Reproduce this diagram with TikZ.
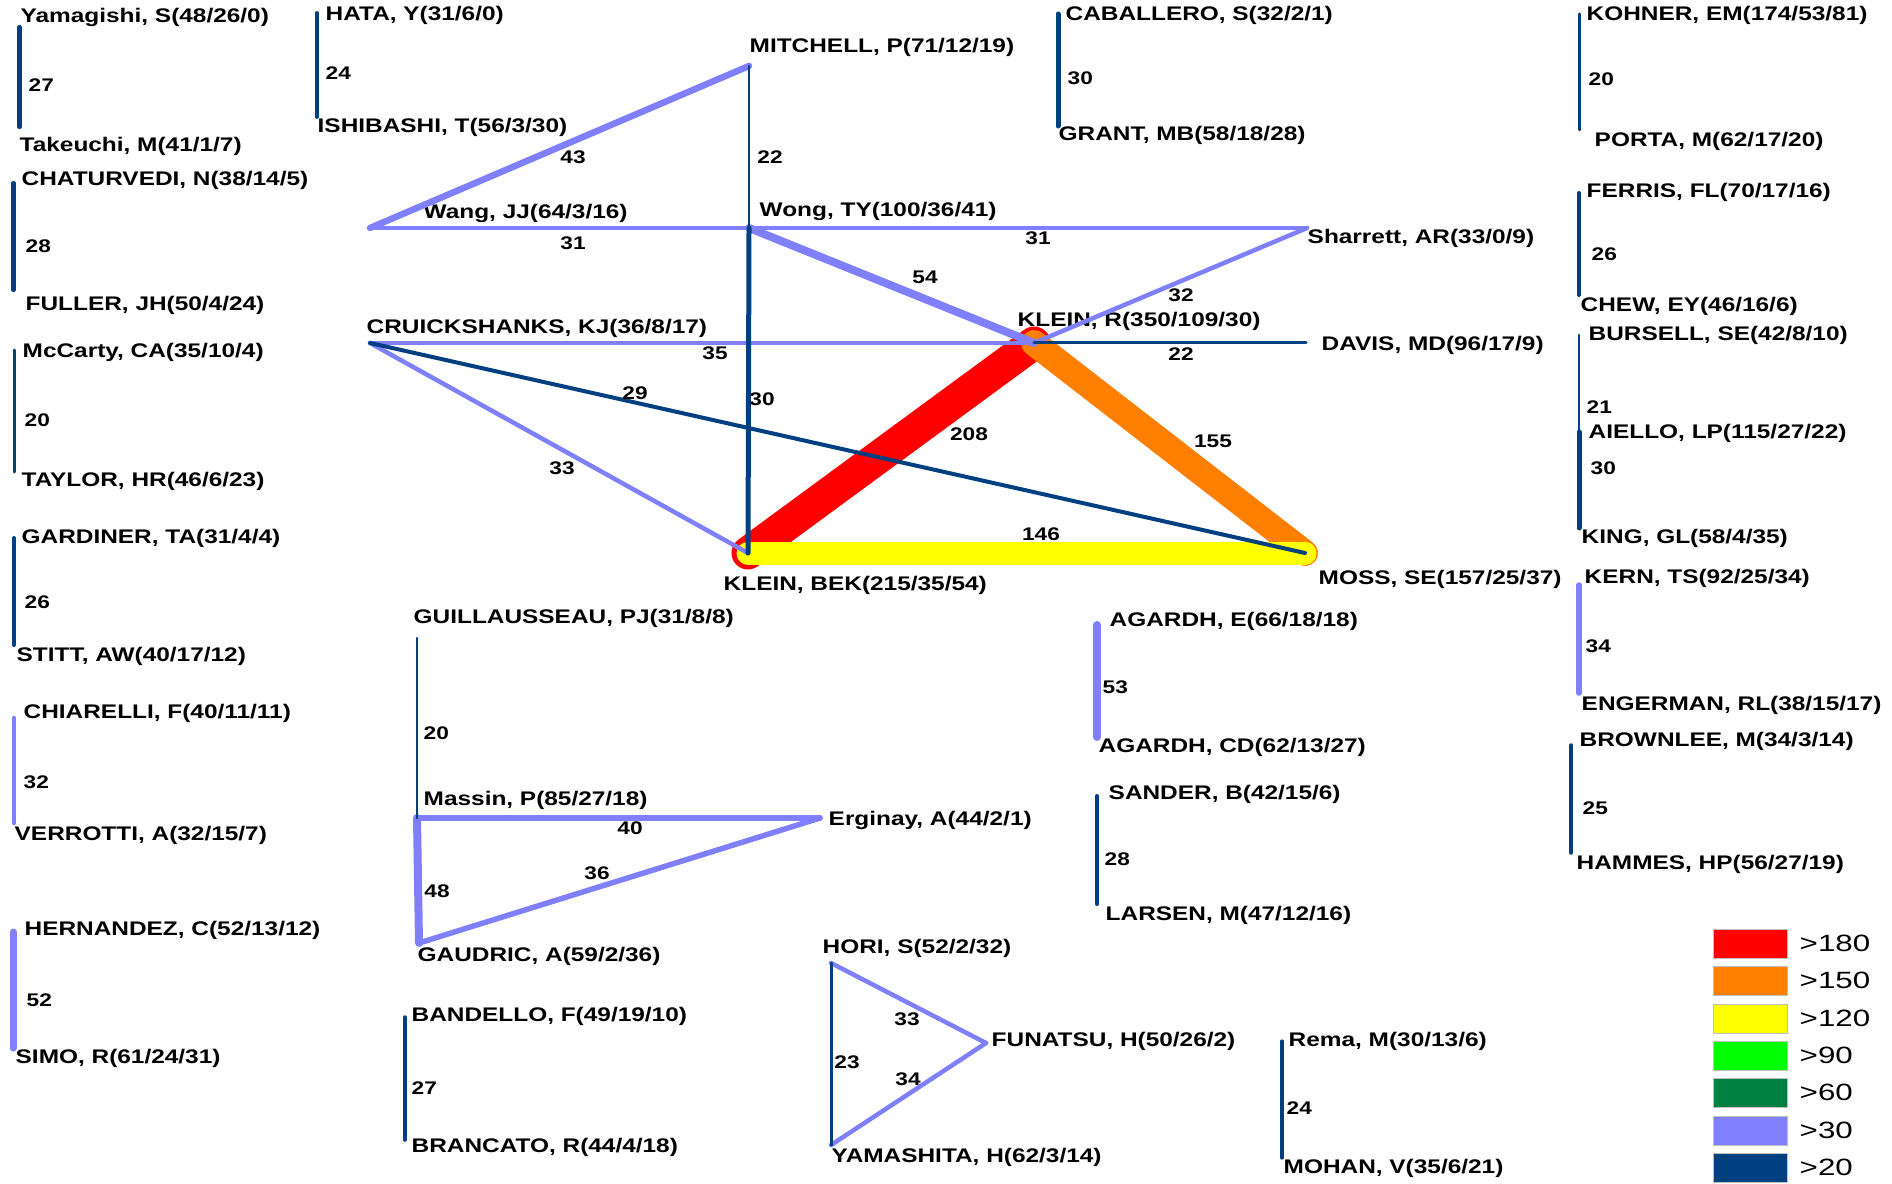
\documentclass[tikz,border=0pt]{standalone}
\usepackage{fontspec}
\setmainfont{Liberation Sans}[FakeStretch=1.24]
\newfontfamily\legendfont{Liberation Sans}[FakeStretch=1.33]

\definecolor{tieRed}{RGB}{255,0,0}
\definecolor{tieOrange}{RGB}{255,128,0}
\definecolor{tieYellow}{RGB}{255,255,0}
\definecolor{tieGreen}{RGB}{0,255,0}
\definecolor{tieDkGreen}{RGB}{0,128,64}
\definecolor{tieLight}{RGB}{128,128,255}
\definecolor{tieDark}{RGB}{0,64,128}

\begin{document}
\begin{tikzpicture}[
		author/.style={anchor=west, inner sep=0pt, font=\fontsize{5.6}{6}\selectfont\bfseries},
		wt/.style={inner sep=0pt, font=\fontsize{5.2}{6}\selectfont\bfseries},
		wtw/.style={wt, anchor=west},
		dkline/.style={draw=tieDark, line width=#1, line cap=round},
		ltline/.style={draw=tieLight, line width=#1, line cap=round},
		legbox/.style={draw=black!25, line width=0.3pt, anchor=north west, minimum width=0.74cm, minimum height=0.29cm, inner sep=0pt},
		legtxt/.style={anchor=west, inner sep=0pt, font=\legendfont\fontsize{6.7}{7}\selectfont}
	]
				\useasboundingbox (0, 0) rectangle (18.92, 11.83);

				\coordinate (mitchell) at (7.49, 11.17);
				\coordinate (wang) at (3.70, 9.55);
				\coordinate (wong) at (7.49, 9.55);
				\coordinate (sharrett) at (13.07, 9.55);
				\coordinate (cruick) at (3.70, 8.40);
				\coordinate (kleinR) at (10.34, 8.40);
				\coordinate (davis) at (13.06, 8.40);
				\coordinate (kleinBEK) at (7.48, 6.30);
				\coordinate (moss) at (13.05, 6.30);

				\node [author] (mitchellT) at (7.49, 11.36) {MITCHELL, P(71/12/19)};
				\node [author] (wangT) at (4.23, 9.70) {Wang, JJ(64/3/16)};
				\node [author] (wongT) at (7.59, 9.72) {Wong, TY(100/36/41)};
				\node [author] (sharrettT) at (13.07, 9.45) {Sharrett, AR(33/0/9)};
				\node [author] (cruickT) at (3.66, 8.55) {CRUICKSHANKS, KJ(36/8/17)};
				\node [author] (kleinRT) at (10.17, 8.62) {KLEIN, R(350/109/30)};
				\node [author] (davisT) at (13.21, 8.38) {DAVIS, MD(96/17/9)};
				\node [author] (kleinBEKT) at (7.23, 5.98) {KLEIN, BEK(215/35/54)};
				\node [author] (mossT) at (13.18, 6.04) {MOSS, SE(157/25/37)};

				\draw [tieRed, line width=0.33cm, line cap=round] (kleinR) -- (kleinBEK);
				\draw [tieOrange, line width=0.26cm, line cap=round] (kleinR) -- (moss);
				\draw [tieYellow, line width=0.23cm, line cap=round] (kleinBEK) -- (moss);

				\draw [ltline=0.065cm] (wang) -- (mitchell);
				\draw [ltline=0.045cm] (wang) -- (wong);
				\draw [ltline=0.045cm] (wong) -- (sharrett);
				\draw [ltline=0.08cm] (wong) -- (kleinR);
				\draw [ltline=0.045cm] (sharrett) -- (kleinR);
				\draw [ltline=0.045cm] (cruick) -- (kleinR);
				\draw [ltline=0.045cm] (cruick) -- (kleinBEK);
				\draw [dkline=0.04cm] (cruick) -- (moss);
				\draw [dkline=0.025cm] (mitchell) -- (wong);
				\draw [dkline=0.05cm] (wong) -- (kleinBEK);
				\draw [dkline=0.03cm] (kleinR) -- (davis);

				\node [wt] (w43) at (5.73, 10.26) {43};
				\node [wt] (w31a) at (5.73, 9.40) {31};
				\node [wt] (w22a) at (7.70, 10.26) {22};
				\node [wt] (w30a) at (7.62, 7.84) {30};
				\node [wt] (w31b) at (10.38, 9.45) {31};
				\node [wt] (w54) at (9.25, 9.06) {54};
				\node [wt] (w32a) at (11.81, 8.88) {32};
				\node [wt] (w35) at (7.15, 8.30) {35};
				\node [wt] (w29) at (6.35, 7.90) {29};
				\node [wt] (w33a) at (5.62, 7.15) {33};
				\node [wt] (w22b) at (11.81, 8.29) {22};
				\node [wt] (w208) at (9.69, 7.49) {208};
				\node [wt] (w155) at (12.13, 7.42) {155};
				\node [wt] (w146) at (10.41, 6.49) {146};

				\coordinate (yamagishi) at (0.196, 11.56);
				\coordinate (takeuchi) at (0.196, 10.56);
				\node [author] (yamagishiT) at (0.20, 11.66) {Yamagishi, S(48/26/0)};
				\node [author] (takeuchiT) at (0.19, 10.37) {Takeuchi, M(41/1/7)};
				\draw [dkline=0.042cm] (yamagishi) -- (takeuchi);
				\node [wtw] (w27a) at (0.28, 10.98) {27};

				\coordinate (hata) at (3.17, 11.70);
				\coordinate (ishibashi) at (3.17, 10.66);
				\node [author] (hataT) at (3.25, 11.68) {HATA, Y(31/6/0)};
				\node [author] (ishibashiT) at (3.17, 10.56) {ISHIBASHI, T(56/3/30)};
				\draw [dkline=0.038cm] (hata) -- (ishibashi);
				\node [wtw] (w24a) at (3.25, 11.10) {24};

				\coordinate (chaturvedi) at (0.134, 10.00);
				\coordinate (fuller) at (0.134, 8.93);
				\node [author] (chaturvediT) at (0.21, 10.03) {CHATURVEDI, N(38/14/5)};
				\node [author] (fullerT) at (0.25, 8.78) {FULLER, JH(50/4/24)};
				\draw [dkline=0.042cm] (chaturvedi) -- (fuller);
				\node [wtw] (w28a) at (0.25, 9.37) {28};

				\coordinate (mccarty) at (0.14, 8.33);
				\coordinate (taylor) at (0.14, 7.11);
				\node [author] (mccartyT) at (0.22, 8.31) {McCarty, CA(35/10/4)};
				\node [author] (taylorT) at (0.21, 7.02) {TAYLOR, HR(46/6/23)};
				\draw [dkline=0.03cm] (mccarty) -- (taylor);
				\node [wtw] (w20a) at (0.24, 7.63) {20};

				\coordinate (gardiner) at (0.14, 6.45);
				\coordinate (stitt) at (0.14, 5.38);
				\node [author] (gardinerT) at (0.21, 6.45) {GARDINER, TA(31/4/4)};
				\node [author] (stittT) at (0.16, 5.27) {STITT, AW(40/17/12)};
				\draw [dkline=0.04cm] (gardiner) -- (stitt);
				\node [wtw] (w26a) at (0.24, 5.81) {26};

				\coordinate (chiarelli) at (0.14, 4.65);
				\coordinate (verrotti) at (0.14, 3.60);
				\node [author] (chiarelliT) at (0.23, 4.70) {CHIARELLI, F(40/11/11)};
				\node [author] (verrottiT) at (0.14, 3.48) {VERROTTI, A(32/15/7)};
				\draw [ltline=0.045cm] (chiarelli) -- (verrotti);
				\node [wtw] (w32b) at (0.23, 4.01) {32};

				\coordinate (hernandez) at (0.13, 2.51);
				\coordinate (simo) at (0.13, 1.35);
				\node [author] (hernandezT) at (0.24, 2.53) {HERNANDEZ, C(52/13/12)};
				\node [author] (simoT) at (0.15, 1.25) {SIMO, R(61/24/31)};
				\draw [ltline=0.07cm] (hernandez) -- (simo);
				\node [wtw] (w52) at (0.26, 1.83) {52};

				\coordinate (caballero) at (10.58, 11.69);
				\coordinate (grant) at (10.58, 10.57);
				\node [author] (caballeroT) at (10.65, 11.68) {CABALLERO, S(32/2/1)};
				\node [author] (grantT) at (10.58, 10.48) {GRANT, MB(58/18/28)};
				\draw [dkline=0.05cm] (caballero) -- (grant);
				\node [wtw] (w30b) at (10.67, 11.05) {30};

				\coordinate (kohner) at (15.79, 11.69);
				\coordinate (porta) at (15.79, 10.53);
				\node [author] (kohnerT) at (15.86, 11.68) {KOHNER, EM(174/53/81)};
				\node [author] (portaT) at (15.94, 10.42) {PORTA, M(62/17/20)};
				\draw [dkline=0.03cm] (kohner) -- (porta);
				\node [wtw] (w20b) at (15.88, 11.04) {20};

				\coordinate (ferris) at (15.79, 9.90);
				\coordinate (chew) at (15.79, 8.88);
				\node [author] (ferrisT) at (15.86, 9.91) {FERRIS, FL(70/17/16)};
				\node [author] (chewT) at (15.80, 8.77) {CHEW, EY(46/16/6)};
				\draw [dkline=0.04cm] (ferris) -- (chew);
				\node [wtw] (w26b) at (15.91, 9.29) {26};

				\coordinate (bursell) at (15.79, 8.48);
				\coordinate (aiello) at (15.79, 7.51);
				\coordinate (king) at (15.79, 6.55);
				\node [author] (bursellT) at (15.88, 8.48) {BURSELL, SE(42/8/10)};
				\node [author] (aielloT) at (15.88, 7.50) {AIELLO, LP(115/27/22)};
				\node [author] (kingT) at (15.81, 6.45) {KING, GL(58/4/35)};
				\draw [dkline=0.028cm] (bursell) -- (aiello);
				\draw [dkline=0.05cm] (aiello) -- (king);
				\node [wtw] (w21) at (15.86, 7.76) {21};
				\node [wtw] (w30c) at (15.90, 7.15) {30};

				\coordinate (kern) at (15.79, 5.98);
				\coordinate (engerman) at (15.79, 4.90);
				\node [author] (kernT) at (15.84, 6.05) {KERN, TS(92/25/34)};
				\node [author] (engermanT) at (15.81, 4.78) {ENGERMAN, RL(38/15/17)};
				\draw [ltline=0.055cm] (kern) -- (engerman);
				\node [wtw] (w34a) at (15.85, 5.37) {34};

				\coordinate (agardhE) at (10.97, 5.58);
				\coordinate (agardhCD) at (10.97, 4.46);
				\node [author] (agardhET) at (11.09, 5.62) {AGARDH, E(66/18/18)};
				\node [author] (agardhCDT) at (10.98, 4.36) {AGARDH, CD(62/13/27)};
				\draw [ltline=0.08cm] (agardhE) -- (agardhCD);
				\node [wtw] (w53) at (11.02, 4.96) {53};

				\coordinate (sander) at (10.97, 3.87);
				\coordinate (larsen) at (10.97, 2.79);
				\node [author] (sanderT) at (11.08, 3.89) {SANDER, B(42/15/6)};
				\node [author] (larsenT) at (11.05, 2.68) {LARSEN, M(47/12/16)};
				\draw [dkline=0.04cm] (sander) -- (larsen);
				\node [wtw] (w28b) at (11.04, 3.24) {28};

				\coordinate (brownlee) at (15.71, 4.38);
				\coordinate (hammes) at (15.71, 3.30);
				\node [author] (brownleeT) at (15.79, 4.42) {BROWNLEE, M(34/3/14)};
				\node [author] (hammesT) at (15.76, 3.19) {HAMMES, HP(56/27/19)};
				\draw [dkline=0.035cm] (brownlee) -- (hammes);
				\node [wtw] (w25) at (15.82, 3.75) {25};

				\coordinate (rema) at (12.82, 1.42);
				\coordinate (mohan) at (12.82, 0.25);
				\node [author] (remaT) at (12.88, 1.42) {Rema, M(30/13/6)};
				\node [author] (mohanT) at (12.83, 0.15) {MOHAN, V(35/6/21)};
				\draw [dkline=0.032cm] (rema) -- (mohan);
				\node [wtw] (w24b) at (12.86, 0.75) {24};

				\coordinate (bandello) at (4.05, 1.66);
				\coordinate (brancato) at (4.05, 0.43);
				\node [author] (bandelloT) at (4.11, 1.67) {BANDELLO, F(49/19/10)};
				\node [author] (brancatoT) at (4.11, 0.36) {BRANCATO, R(44/4/18)};
				\draw [dkline=0.035cm] (bandello) -- (brancato);
				\node [wtw] (w27b) at (4.11, 0.95) {27};

				\coordinate (guill) at (4.17, 5.45);
				\coordinate (massin) at (4.17, 3.65);
				\coordinate (erginay) at (8.20, 3.65);
				\coordinate (gaudric) at (4.19, 2.40);
				\node [author] (guillT) at (4.13, 5.65) {GUILLAUSSEAU, PJ(31/8/8)};
				\node [author] (massinT) at (4.23, 3.83) {Massin, P(85/27/18)};
				\node [author] (erginayT) at (8.28, 3.63) {Erginay, A(44/2/1)};
				\node [author] (gaudricT) at (4.17, 2.27) {GAUDRIC, A(59/2/36)};
				\draw [ltline=0.055cm] (massin) -- (erginay);
				\draw [ltline=0.055cm] (erginay) -- (gaudric);
				\draw [ltline=0.08cm] (massin) -- (gaudric);
				\draw [dkline=0.025cm] (guill) -- (massin);
				\node [wtw] (w20c) at (4.23, 4.50) {20};
				\node [wt] (w40) at (6.30, 3.55) {40};
				\node [wt] (w36) at (5.97, 3.10) {36};
				\node [wt] (w48) at (4.37, 2.92) {48};

				\coordinate (hori) at (8.31, 2.20);
				\coordinate (funatsu) at (9.86, 1.40);
				\coordinate (yamashita) at (8.31, 0.38);
				\node [author] (horiT) at (8.22, 2.35) {HORI, S(52/2/32)};
				\node [author] (funatsuT) at (9.91, 1.42) {FUNATSU, H(50/26/2)};
				\node [author] (yamashitaT) at (8.31, 0.26) {YAMASHITA, H(62/3/14)};
				\draw [ltline=0.045cm] (hori) -- (funatsu);
				\draw [ltline=0.045cm] (funatsu) -- (yamashita);
				\draw [dkline=0.03cm] (hori) -- (yamashita);
				\node [wt] (w33b) at (9.07, 1.64) {33};
				\node [wt] (w34b) at (9.08, 1.04) {34};
				\node [wt] (w23) at (8.47, 1.21) {23};

				\node [legbox, fill=tieRed] (leg180) at (17.13, 2.54) {};
				\node [legbox, fill=tieOrange] (leg150) at (17.13, 2.17) {};
				\node [legbox, fill=tieYellow] (leg120) at (17.13, 1.79) {};
				\node [legbox, fill=tieGreen] (leg90) at (17.13, 1.42) {};
				\node [legbox, fill=tieDkGreen] (leg60) at (17.13, 1.05) {};
				\node [legbox, fill=tieLight] (leg30) at (17.13, 0.67) {};
				\node [legbox, fill=tieDark] (leg20) at (17.13, 0.30) {};

				\node [legtxt] (leg180T) at (17.99, 2.40) {>180};
				\node [legtxt] (leg150T) at (17.99, 2.03) {>150};
				\node [legtxt] (leg120T) at (17.99, 1.65) {>120};
				\node [legtxt] (leg90T) at (17.99, 1.28) {>90};
				\node [legtxt] (leg60T) at (17.99, 0.91) {>60};
				\node [legtxt] (leg30T) at (17.99, 0.53) {>30};
				\node [legtxt] (leg20T) at (17.99, 0.16) {>20};
		\end{tikzpicture}
\end{document}
